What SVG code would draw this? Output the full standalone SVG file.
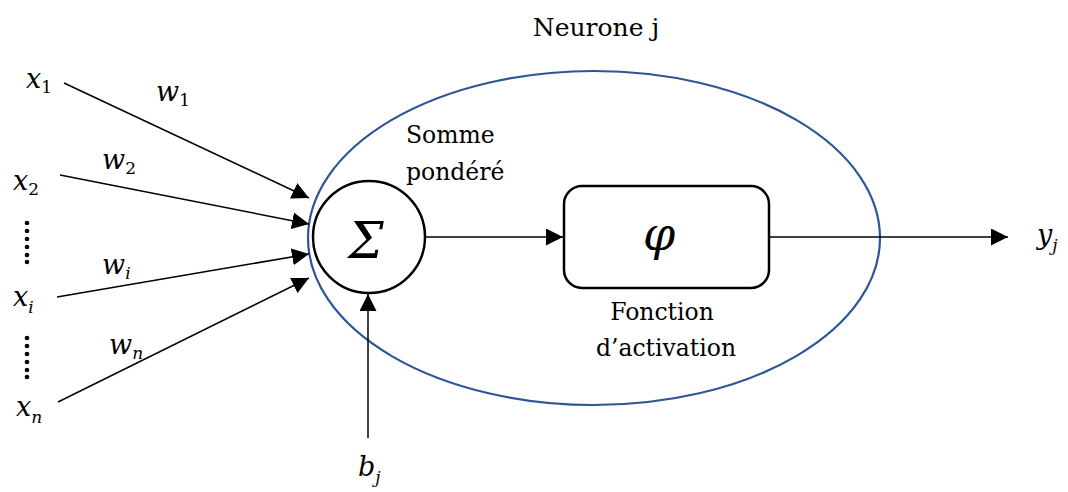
<svg xmlns="http://www.w3.org/2000/svg" width="1068" height="492" viewBox="0 0 1068 492">
<defs>
<marker id="ah" viewBox="0 0 10 10" refX="10" refY="5" markerWidth="17" markerHeight="17" markerUnits="userSpaceOnUse" orient="auto">
<path d="M0,0 L10,5 L0,10 z" fill="#000"/>
</marker>
<style>
text{font-family:'DejaVu Serif',serif}
.t{font-size:23.5px;fill:#000}
.m{font-style:italic;font-size:27px;fill:#000}
.s{font-size:17px;font-style:normal}
.si{font-size:17px;font-style:italic}
.c{stroke:#000;stroke-width:1.5;fill:none}
.dot{fill:#000}
</style>
</defs>
<rect width="1068" height="492" fill="#fff"/>
<g id="neuron">
<ellipse cx="594" cy="238" rx="286" ry="167" fill="none" stroke="#2E5597" stroke-width="2.2"/>
<text class="t" x="596" y="36" text-anchor="middle" style="font-size:25px">Neurone j</text>
</g>
<g id="sum">
<circle cx="369" cy="237" r="56" fill="#fff" stroke="#000" stroke-width="2.5"/>
<text class="m" x="366" y="258" text-anchor="middle" style="font-size:50px">Σ</text>
<text class="t" x="406" y="143">Somme</text>
<text class="t" x="406" y="180">pondéré</text>
</g>
<g id="activation">
<rect x="564" y="186" width="205" height="102" rx="18" fill="#fff" stroke="#000" stroke-width="2.5"/>
<text class="m" x="659" y="250" text-anchor="middle" style="font-size:46px">φ</text>
<text class="t" x="662" y="320" text-anchor="middle">Fonction</text>
<text class="t" x="666" y="356" text-anchor="middle">d’activation</text>
</g>
<g id="inputs">
<text class="m" x="26" y="88">x<tspan class="s" dy="5">1</tspan></text>
<text class="m" x="13" y="190">x<tspan class="s" dy="5">2</tspan></text>
<text class="m" x="13" y="306">x<tspan class="si" dy="7">i</tspan></text>
<text class="m" x="16" y="416">x<tspan class="si" dy="7">n</tspan></text>
<text class="m" x="156" y="101">w<tspan class="s" dy="5">1</tspan></text>
<text class="m" x="102" y="169">w<tspan class="s" dy="5">2</tspan></text>
<text class="m" x="102" y="274">w<tspan class="si" dy="5">i</tspan></text>
<text class="m" x="109" y="354">w<tspan class="si" dy="5">n</tspan></text>
<g class="dot">
<circle cx="27" cy="223" r="2.3"/><circle cx="27" cy="231" r="2.3"/><circle cx="27" cy="239" r="2.3"/><circle cx="27" cy="247" r="2.3"/><circle cx="27" cy="255" r="2.3"/><circle cx="27" cy="262" r="2.3"/>
<circle cx="27" cy="338" r="2.3"/><circle cx="27" cy="346" r="2.3"/><circle cx="27" cy="354" r="2.3"/><circle cx="27" cy="362" r="2.3"/><circle cx="27" cy="370" r="2.3"/><circle cx="27" cy="377" r="2.3"/>
</g>
</g>
<g id="bias">
<text class="m" x="358" y="476">b<tspan class="si" dy="7">j</tspan></text>
</g>
<g id="output">
<text class="m" x="1037" y="244">y<tspan class="si" dy="7">j</tspan></text>
</g>
<g id="connectors">
<line class="c" x1="64" y1="83" x2="309" y2="198" marker-end="url(#ah)"/>
<line class="c" x1="60" y1="175" x2="309" y2="224" marker-end="url(#ah)"/>
<line class="c" x1="57" y1="297" x2="309" y2="254" marker-end="url(#ah)"/>
<line class="c" x1="58" y1="402" x2="309" y2="278" marker-end="url(#ah)"/>
<line class="c" x1="368" y1="438" x2="368" y2="294" marker-end="url(#ah)"/>
<line class="c" x1="425" y1="237" x2="563" y2="237" marker-end="url(#ah)"/>
<line class="c" x1="769" y1="237" x2="1008" y2="237" marker-end="url(#ah)"/>
</g>
</svg>
